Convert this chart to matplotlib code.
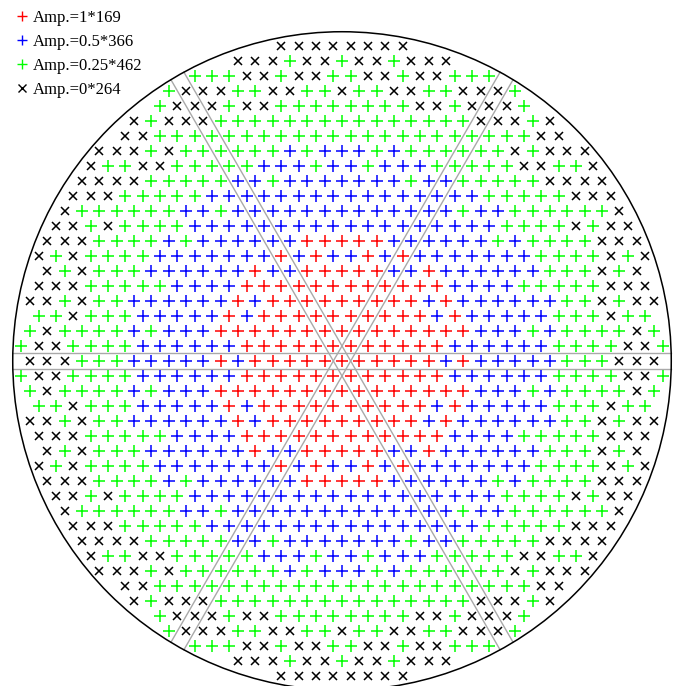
import numpy as np
import matplotlib.pyplot as plt
from matplotlib.lines import Line2D
from matplotlib.patches import Circle

# ------------------------------
# ARRAY DATA
# ------------------------------
# amplitude class of every element, one string per lattice row, top row first
# r -> 1, b -> 0.5, g -> 0.25, x -> 0 (element switched off)
rows = [
    "xxxxxxxx",
    "xxxgxx" "g" "xxgxxx",
    "gggxxgxxg" "gxxgxxggg",
    "gxxxggxxgg" "x" "ggxxggxxxg",
    "gxxxgxxgggg" "ggggxxgxxxg",
    "xgxxxggggggg" "g" "gggggggxxxgx",
    "xxggggggggggg" "gggggggggggxx",
    "xxxgxggggggbgb" "b" "bgbggggggxgxxx",
    "xggxxgggggbbbgb" "bgbbbgggggxxggx",
    "xxxxgggggbbgbbb" "b" "bbbgbbgggggxxxx",
    "xxxgggggbbbbbbbb" "bbbbbbbbgggggxxx",
    "xggggggbbgbbbbbb" "b" "bbbbbbgbbggggggx",
    "xxgxggggbbbbbbbbb" "bbbbbbbbbggggxgxx",
    "xxxggggbgbbbbbbrr" "r" "rrbbbbbbgbggggxxx",
    "xgxggggbbbbbbbrbrb" "brbrbbbbbbbggggxgx",
    "xgxgggbbbbbbrbbrr" "r" "rrbbrbbbbbbgggxgx",
    "xxxgggggbbbbrrrrrr" "rrrrrrbbbbgggggxxx",
    "xxgxggbbbbbbrbrrrr" "r" "rrrrbrbbbbbbggxgxx",
    "ggxgggbbbbbrbrrrrr" "rrrrrbrbbbbbgggxgg",
    "gxggggbgbbbrrrrrrr" "r" "rrrrrrrbbbgbggggxg",
    "gxxggggbbbbbbrrrrrr" "rrrrrrbbbbbbggggxxg",
    "xxxgggbbbbbrbrrrrr" "r" "rrrrrbrbbbbbgggxxx",   # centre row
    "gxxggggbbbbbbrrrrrr" "rrrrrrbbbbbbggggxxg",
    "gxggggbgbbbrrrrrrr" "r" "rrrrrrrbbbgbggggxg",
    "ggxgggbbbbbrbrrrrr" "rrrrrbrbbbbbgggxgg",
    "xxgxggbbbbbbrbrrrr" "r" "rrrrbrbbbbbbggxgxx",
    "xxxgggggbbbbrrrrrr" "rrrrrrbbbbgggggxxx",
    "xgxgggbbbbbbrbbrr" "r" "rrbbrbbbbbbgggxgx",
    "xgxggggbbbbbbbrbrb" "brbrbbbbbbbggggxgx",
    "xxxggggbgbbbbbbrr" "r" "rrbbbbbbgbggggxxx",
    "xxgxggggbbbbbbbbb" "bbbbbbbbbggggxgxx",
    "xggggggbbgbbbbbb" "b" "bbbbbbgbbggggggx",
    "xxxgggggbbbbbbbb" "bbbbbbbbgggggxxx",
    "xxxxgggggbbgbbb" "b" "bbbgbbgggggxxxx",
    "xggxxgggggbbbgb" "bgbbbgggggxxggx",
    "xxxgxggggggbgb" "b" "bgbggggggxgxxx",
    "xxggggggggggg" "gggggggggggxx",
    "xgxxxggggggg" "g" "gggggggxxxgx",
    "gxxxgxxgggg" "ggggxxgxxxg",
    "gxxxggxxgg" "x" "ggxxggxxxg",
    "gggxxgxxg" "gxxgxxggg",
    "xxxgxx" "g" "xxgxxx",
    "xxxxxxxx",
]

amp_codes = ["r", "b", "g", "x"]
amp_values = ["1", "0.5", "0.25", "0"]
amp_colors = ["#ff0000", "#0000ff", "#00ff00", "black"]
amp_markers = ["+", "+", "+", "x"]

aperture_radius = 19.0            # in element spacings
gap_angles = [0, 60, 120]         # directions of the three gap strips (deg)
gap_half_width = np.sqrt(3) / 4   # half a row pitch

# ------------------------------
# ELEMENT POSITIONS (triangular lattice)
# ------------------------------
row_pitch = np.sqrt(3) / 2
n_rows = len(rows)
xs, ys, codes = [], [], []
for i, row in enumerate(rows):
    k = (n_rows - 1) / 2 - i
    n = len(row)
    for j, c in enumerate(row):
        xs.append(j - (n - 1) / 2)
        ys.append(k * row_pitch)
        codes.append(c)
xs = np.array(xs)
ys = np.array(ys)
codes = np.array(codes)

# ------------------------------
# FIGURE
# ------------------------------
W, H = 679, 686
cx, cy = 342, 361      # array centre in pixels
scale = 17.33          # pixels per element spacing

fig = plt.figure(figsize=(W / 100, H / 100), dpi=100)
ax = fig.add_axes([0, 0, 1, 1])
ax.set_xlim(-cx / scale, (W - cx) / scale)
ax.set_ylim(-(H - cy) / scale, cy / scale)
ax.axis("off")

# aperture outline
ax.add_patch(Circle((0, 0), aperture_radius, fill=False, color="black", lw=1.1, zorder=2))

# gap strips between the six sectors
R, h = aperture_radius, gap_half_width
half = np.sqrt(R**2 - h**2)
for ang in gap_angles:
    t = np.deg2rad(ang)
    u = np.array([np.cos(t), np.sin(t)])
    nv = np.array([-np.sin(t), np.cos(t)])
    for s in (-1, 1):
        p0 = s * h * nv - half * u
        p1 = s * h * nv + half * u
        ax.plot([p0[0], p1[0]], [p0[1], p1[1]], color="#a9a9a9", lw=1.0, zorder=1)

handles = []
for code, val, col, mk in zip(amp_codes, amp_values, amp_colors, amp_markers):
    sel = codes == code
    ms = 8.6 if mk == "+" else 6.4
    ax.plot(xs[sel], ys[sel], ls="none", marker=mk, ms=ms, mew=1.1, color=col, zorder=3)
    handles.append(Line2D([], [], ls="none", marker=mk, color=col, mew=1.0,
                          ms=6.8 if mk == "+" else 5.8,
                          label="Amp.=%s*%d" % (val, sel.sum())))

ax.legend(handles=handles, loc="upper left",
          bbox_to_anchor=(13.5 / W, 1 - 10 / H),
          frameon=False, borderpad=0, borderaxespad=0,
          handlelength=1.0, handletextpad=0.15, labelspacing=0.47,
          prop={"family": "Liberation Serif", "size": 12})

fig.savefig("out.png", dpi=100)
